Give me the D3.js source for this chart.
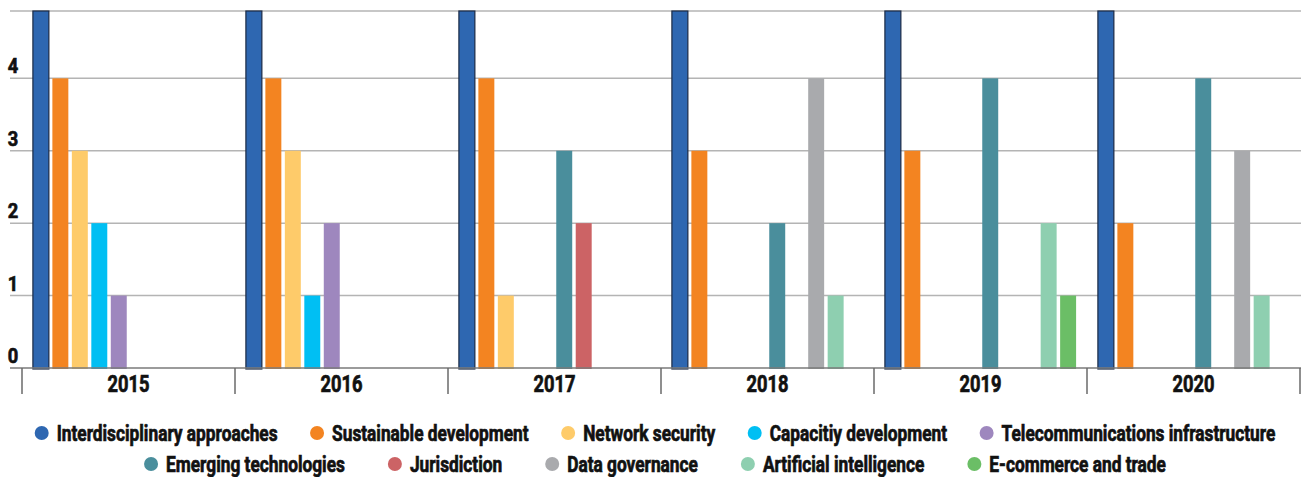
<!DOCTYPE html>
<html>
<head>
<meta charset="utf-8">
<script src="https://cdn.jsdelivr.net/npm/d3@7/dist/d3.min.js"></script>
<style>
  html, body { margin: 0; padding: 0; background: #fff; }
  svg { display: block; }
  text { font-family: "Roboto", "Liberation Sans", sans-serif; font-weight: bold; fill: #111; stroke: #111; stroke-width: 0.7px; }
</style>
</head>
<body>
<svg id="chart" width="1304" height="477"></svg>
<script>
// ---- DATA ----
const years = ["2015", "2016", "2017", "2018", "2019", "2020"];
const seriesNames = [
  "Interdisciplinary approaches", "Sustainable development", "Network security",
  "Capacitiy development", "Telecommunications infrastructure", "Emerging technologies",
  "Jurisdiction", "Data governance", "Artificial intelligence", "E-commerce and trade"
];
const seriesColors = ["#2e67b1", "#f38421", "#fecb6a", "#00bff3", "#9e87be",
                      "#4a8e9c", "#cc6365", "#a9aaad", "#8ecfb0", "#6bbe66"];
const interdisciplinary = [5, 5, 5, 5, 5, 5];
const sustainable       = [4, 4, 4, 3, 3, 2];
const networkSecurity   = [3, 3, 1, 0, 0, 0];
const capacity          = [2, 1, 0, 0, 0, 0];
const telecom           = [1, 2, 0, 0, 0, 0];
const emerging          = [0, 0, 3, 2, 4, 4];
const jurisdiction      = [0, 0, 2, 0, 0, 0];
const dataGovernance    = [0, 0, 0, 4, 0, 3];
const ai                = [0, 0, 0, 1, 2, 1];
const ecommerce         = [0, 0, 0, 0, 1, 0];
const seriesValues = [interdisciplinary, sustainable, networkSecurity, capacity, telecom,
                      emerging, jurisdiction, dataGovernance, ai, ecommerce];
const yTicks = [0, 1, 2, 3, 4];
const yMax = 4.93;

// ---- CHART ----
const svg = d3.select("#chart");
const x0 = d3.scaleBand().domain(years).range([22, 1300]).paddingInner(0).paddingOuter(0);
const x1 = d3.scaleBand().domain(d3.range(seriesNames.length)).range([0, x0.bandwidth()])
  .paddingInner(0.18).paddingOuter(0.56);
const y = d3.scaleLinear().domain([0, yMax]).range([368, 11]).clamp(true);

// width of a text at a given size, used to emulate the condensed face
function measure(str, size) {
  const t = svg.append("text").attr("font-size", size).text(str);
  const w = t.node().getComputedTextLength();
  t.remove();
  return w;
}
const yearSX = 42 / measure("2015", 23);
const tickSX = 10.5 / measure("4", 21);
const legSX = 221 / measure(seriesNames[0], 21.5);

// grid lines
const grid = svg.append("g");
grid.selectAll("line.g").data(yTicks.slice(1).concat([yMax])).enter().append("line")
  .attr("x1", 10).attr("x2", 1301)
  .attr("y1", d => y(d)).attr("y2", d => y(d))
  .attr("stroke", "#b4b4b4").attr("stroke-width", 1.5);

// bars
const groups = svg.append("g").selectAll("g").data(years).enter().append("g")
  .attr("transform", d => `translate(${x0(d)},0)`);
groups.selectAll("rect")
  .data((yr, yi) => seriesValues.map((vals, si) => ({ si, v: vals[yi] })).filter(d => d.v > 0))
  .enter().append("rect")
  .attr("x", d => x1(d.si))
  .attr("width", x1.bandwidth())
  .attr("y", d => y(d.v))
  .attr("height", d => y(0) - y(d.v) + 1)
  .attr("fill", d => seriesColors[d.si])
  .attr("stroke", d => d.si === 0 ? "#1b2a45" : "none")
  .attr("stroke-width", 1.2);

// baseline axis
svg.append("line").attr("x1", 10).attr("x2", 1301).attr("y1", y(0)).attr("y2", y(0))
  .attr("stroke", "#7a7a7a").attr("stroke-width", 1.5);

// category boundary ticks
const bounds = years.map(d => x0(d)).concat([x0.range()[1]]);
svg.append("g").selectAll("line").data(bounds).enter().append("line")
  .attr("x1", d => d).attr("x2", d => d).attr("y1", y(0)).attr("y2", 394)
  .attr("stroke", "#6a6a6a").attr("stroke-width", 1.5);

// year labels
svg.append("g").selectAll("g").data(years).enter().append("g")
  .attr("transform", d => `translate(${x0(d) + x0.bandwidth() / 2},392) scale(${yearSX},1)`)
  .append("text").attr("text-anchor", "middle").attr("font-size", 23)
  .text(d => d);

// y tick labels
svg.append("g").selectAll("g").data(yTicks).enter().append("g")
  .attr("transform", d => `translate(13,${y(d) - 5}) scale(${tickSX},1)`)
  .append("text").attr("text-anchor", "middle").attr("font-size", 21)
  .text(d => d);

// legend
const rows = [[0, 1, 2, 3, 4], [5, 6, 7, 8, 9]];
const rowY = [433, 464];
const rowGap = [39.5, 50];
const centerX = 655;
rows.forEach((row, ri) => {
  const g = svg.append("g");
  let cx = 0;
  const items = [];
  row.forEach((si, k) => {
    const it = g.append("g");
    it.append("circle").attr("cx", 0).attr("cy", 0).attr("r", 7).attr("fill", seriesColors[si]);
    const tg = it.append("g").attr("transform", `translate(15,8) scale(${legSX},1)`);
    const t = tg.append("text").attr("x", 0).attr("y", 0).attr("font-size", 21.5).text(seriesNames[si]);
    const w = 15 + t.node().getComputedTextLength() * legSX;
    items.push({ it, pos: cx });
    cx += w + (k < row.length - 1 ? rowGap[ri] : 0);
  });
  const total = cx + 7;
  const start = centerX - total / 2 + 7;
  items.forEach(d => d.it.attr("transform", `translate(${start + d.pos},${rowY[ri]})`));
});
</script>
</body>
</html>
